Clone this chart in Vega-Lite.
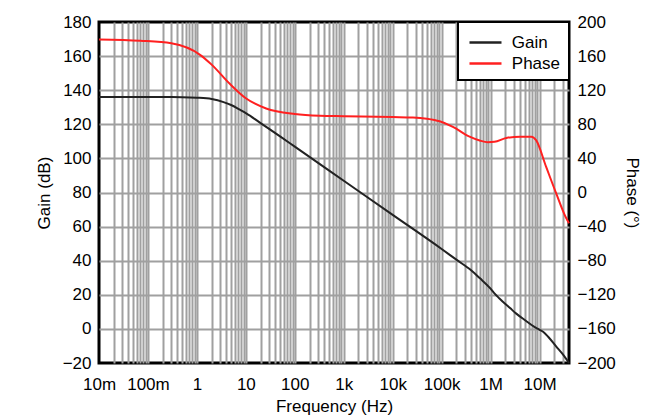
{
  "$schema": "https://vega.github.io/schema/vega-lite/v6.json",
  "width": 470,
  "height": 341,
  "autosize": {"type": "none"},
  "padding": {"left": 99, "top": 22, "right": 92, "bottom": 55},
  "background": "white",
  "data": {
    "values": [
      {"f": 0.01, "v": 136, "s": "Gain"},
      {"f": 0.1, "v": 136, "s": "Gain"},
      {"f": 0.5, "v": 135.9, "s": "Gain"},
      {"f": 1, "v": 135.6, "s": "Gain"},
      {"f": 2, "v": 134.8, "s": "Gain"},
      {"f": 3.5, "v": 133, "s": "Gain"},
      {"f": 5, "v": 131.3, "s": "Gain"},
      {"f": 7.5, "v": 128.6, "s": "Gain"},
      {"f": 10, "v": 126.6, "s": "Gain"},
      {"f": 20, "v": 120.7, "s": "Gain"},
      {"f": 50, "v": 112.9, "s": "Gain"},
      {"f": 100, "v": 106.9, "s": "Gain"},
      {"f": 1000, "v": 86.9, "s": "Gain"},
      {"f": 10000, "v": 66.9, "s": "Gain"},
      {"f": 100000, "v": 46.9, "s": "Gain"},
      {"f": 200000, "v": 40.6, "s": "Gain"},
      {"f": 400000, "v": 34.4, "s": "Gain"},
      {"f": 600000, "v": 29.8, "s": "Gain"},
      {"f": 1000000, "v": 23.6, "s": "Gain"},
      {"f": 1200000, "v": 20.8, "s": "Gain"},
      {"f": 1500000, "v": 18.0, "s": "Gain"},
      {"f": 1900000, "v": 15.2, "s": "Gain"},
      {"f": 2500000, "v": 12.2, "s": "Gain"},
      {"f": 3300000, "v": 9.1, "s": "Gain"},
      {"f": 5000000, "v": 5.2, "s": "Gain"},
      {"f": 8500000, "v": 0.6, "s": "Gain"},
      {"f": 10000000, "v": -0.5, "s": "Gain"},
      {"f": 12000000, "v": -1.8, "s": "Gain"},
      {"f": 15000000, "v": -4.6, "s": "Gain"},
      {"f": 22000000, "v": -10.4, "s": "Gain"},
      {"f": 30000000, "v": -15, "s": "Gain"},
      {"f": 40000000, "v": -20, "s": "Gain"},
      {"f": 0.01, "v": 179.5, "s": "Phase"},
      {"f": 0.07, "v": 178, "s": "Phase"},
      {"f": 0.3, "v": 175, "s": "Phase"},
      {"f": 1.16, "v": 161.5, "s": "Phase"},
      {"f": 2, "v": 150, "s": "Phase"},
      {"f": 4.7, "v": 127.5, "s": "Phase"},
      {"f": 10, "v": 110.5, "s": "Phase"},
      {"f": 26, "v": 98.5, "s": "Phase"},
      {"f": 100, "v": 92, "s": "Phase"},
      {"f": 324, "v": 90, "s": "Phase"},
      {"f": 1000, "v": 89.5, "s": "Phase"},
      {"f": 10000, "v": 88.5, "s": "Phase"},
      {"f": 26000, "v": 88, "s": "Phase"},
      {"f": 50000, "v": 86.5, "s": "Phase"},
      {"f": 91000, "v": 83.5, "s": "Phase"},
      {"f": 170000, "v": 77, "s": "Phase"},
      {"f": 372000, "v": 65.5, "s": "Phase"},
      {"f": 600000, "v": 61, "s": "Phase"},
      {"f": 880000, "v": 59, "s": "Phase"},
      {"f": 1200000, "v": 59.5, "s": "Phase"},
      {"f": 2100000, "v": 64, "s": "Phase"},
      {"f": 4000000, "v": 65.5, "s": "Phase"},
      {"f": 6800000, "v": 65.5, "s": "Phase"},
      {"f": 8500000, "v": 61.5, "s": "Phase"},
      {"f": 13600000, "v": 30.3, "s": "Phase"},
      {"f": 21900000, "v": -1, "s": "Phase"},
      {"f": 35000000, "v": -30, "s": "Phase"},
      {"f": 40000000, "v": -36, "s": "Phase"}
    ]
  },
  "encoding": {
    "x": {
      "field": "f",
      "type": "quantitative",
      "scale": {"type": "log", "domain": [0.01, 40000000], "nice": false},
      "axis": {
        "title": "Frequency  (Hz)",
        "values": [0.01,0.02,0.03,0.04,0.05,0.06,0.07,0.08,0.09,0.1,0.2,0.3,0.4,0.5,0.6,0.7,0.8,0.9,1,2,3,4,5,6,7,8,9,10,20,30,40,50,60,70,80,90,100,200,300,400,500,600,700,800,900,1000,2000,3000,4000,5000,6000,7000,8000,9000,10000,20000,30000,40000,50000,60000,70000,80000,90000,100000,200000,300000,400000,500000,600000,700000,800000,900000,1000000,2000000,3000000,4000000,5000000,6000000,7000000,8000000,9000000,10000000,20000000,30000000],
        "labelExpr": "datum.value == 0.01 ? '10m' : datum.value == 0.1 ? '100m' : datum.value == 1 ? '1' : datum.value == 10 ? '10' : datum.value == 100 ? '100' : datum.value == 1000 ? '1k' : datum.value == 10000 ? '10k' : datum.value == 100000 ? '100k' : datum.value == 1000000 ? '1M' : datum.value == 10000000 ? '10M' : ''",
        "labelOverlap": false,
        "labelFlush": false,
        "labelBound": false,
        "labelPadding": 13,
        "gridOpacity": {"condition": {"test": "datum.value == 0.01", "value": 0}, "value": 1},
        "titleY": 48,
        "titleBaseline": "alphabetic"
      }
    },
    "color": {
      "field": "s",
      "type": "nominal",
      "scale": {"domain": ["Gain", "Phase"], "range": ["#222222", "#ff2020"]},
      "legend": {
        "title": null,
        "orient": "top-right",
        "offset": 0,
        "strokeColor": "black",
        "fillColor": "white",
        "padding": 8,
        "labelFontSize": 17,
        "labelOffset": 20.8,
        "symbolType": "M-0.82,0H2.09",
        "symbolSize": 484,
        "symbolStrokeWidth": 2.5,
        "rowPadding": 0,
        "encode": {"legend": {"update": {"strokeWidth": {"value": 2}}}}
      }
    }
  },
  "layer": [
    {
      "transform": [{"filter": "datum.s == 'Gain'"}],
      "mark": {"type": "line", "interpolate": "monotone", "strokeWidth": 2},
      "encoding": {
        "y": {
          "field": "v",
          "type": "quantitative",
          "scale": {"domain": [-20, 180], "nice": false, "zero": false},
          "axis": {
            "title": "Gain (dB)",
            "orient": "left",
            "values": [-20, 0, 20, 40, 60, 80, 100, 120, 140, 160, 180],
            "gridOpacity": {"condition": {"test": "datum.value == 180 || datum.value == -20", "value": 0}, "value": 1},
            "labelPadding": 8,
            "titleX": -49.5,
            "titleY": 170.5,
            "titleAngle": -90,
            "titleBaseline": "alphabetic",
            "titleAlign": "center"
          }
        }
      }
    },
    {
      "transform": [{"filter": "datum.s == 'Phase'"}],
      "mark": {"type": "line", "interpolate": "monotone", "strokeWidth": 2},
      "encoding": {
        "y": {
          "field": "v",
          "type": "quantitative",
          "scale": {"domain": [-200, 200], "nice": false, "zero": false},
          "axis": {
            "title": "Phase (°)",
            "orient": "right",
            "values": [-200, -160, -120, -80, -40, 0, 40, 80, 120, 160, 200],
            "grid": false,
            "labelPadding": 8,
            "titleX": 57,
            "titleY": 170.5,
            "titleAngle": 90,
            "titleBaseline": "alphabetic",
            "titleAlign": "center"
          }
        }
      }
    }
  ],
  "resolve": {"scale": {"y": "independent"}},
  "config": {
    "font": "Liberation Sans",
    "view": {"stroke": "black", "strokeWidth": 3},
    "axis": {
      "labelFontSize": 17,
      "titleFontSize": 17,
      "labelColor": "black",
      "titleColor": "black",
      "titleFontWeight": "normal",
      "ticks": false,
      "domain": false,
      "gridColor": "#a0a0a0",
      "gridWidth": 2
    },
    "legend": {"labelColor": "black", "labelFont": "Liberation Sans"}
  }
}
